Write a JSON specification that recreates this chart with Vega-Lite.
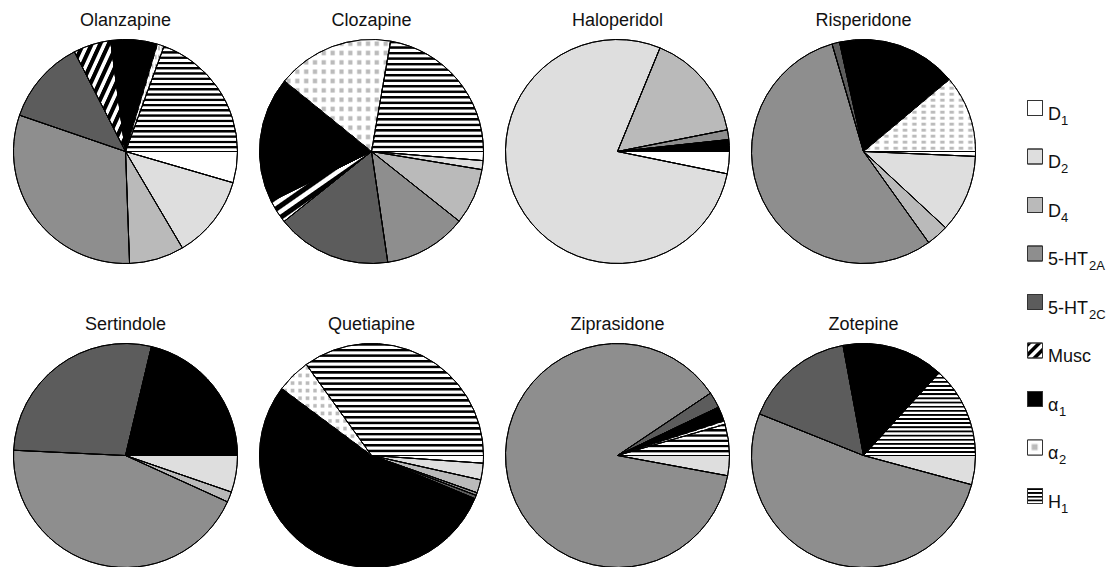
{
  "$schema": "https://vega.github.io/schema/vega-lite/v6.json",
  "padding": {"top": 11, "left": 11, "right": 0, "bottom": 0},
  "config": {"view": {"stroke": null}, "font": "Liberation Sans"},
  "datasets": {
    "pies": [
      {"drug": "Olanzapine", "receptor": "D1", "ord": 1, "value": 4.5},
      {"drug": "Olanzapine", "receptor": "D2", "ord": 2, "value": 12.0},
      {"drug": "Olanzapine", "receptor": "D4", "ord": 3, "value": 7.9},
      {"drug": "Olanzapine", "receptor": "5-HT2A", "ord": 4, "value": 30.8},
      {"drug": "Olanzapine", "receptor": "5-HT2C", "ord": 5, "value": 12.2},
      {"drug": "Olanzapine", "receptor": "Musc", "ord": 6, "value": 5.4},
      {"drug": "Olanzapine", "receptor": "α1", "ord": 7, "value": 6.7},
      {"drug": "Olanzapine", "receptor": "α2", "ord": 8, "value": 1.0},
      {"drug": "Olanzapine", "receptor": "H1", "ord": 9, "value": 19.4},
      {"drug": "Clozapine", "receptor": "D1", "ord": 1, "value": 1.3},
      {"drug": "Clozapine", "receptor": "D2", "ord": 2, "value": 1.3},
      {"drug": "Clozapine", "receptor": "D4", "ord": 3, "value": 8.1},
      {"drug": "Clozapine", "receptor": "5-HT2A", "ord": 4, "value": 12.0},
      {"drug": "Clozapine", "receptor": "5-HT2C", "ord": 5, "value": 16.6},
      {"drug": "Clozapine", "receptor": "Musc", "ord": 6, "value": 3.4},
      {"drug": "Clozapine", "receptor": "α1", "ord": 7, "value": 18.2},
      {"drug": "Clozapine", "receptor": "α2", "ord": 8, "value": 16.9},
      {"drug": "Clozapine", "receptor": "H1", "ord": 9, "value": 22.3},
      {"drug": "Haloperidol", "receptor": "D1", "ord": 1, "value": 3.2},
      {"drug": "Haloperidol", "receptor": "D2", "ord": 2, "value": 78.0},
      {"drug": "Haloperidol", "receptor": "D4", "ord": 3, "value": 15.7},
      {"drug": "Haloperidol", "receptor": "5-HT2A", "ord": 4, "value": 1.4},
      {"drug": "Haloperidol", "receptor": "α1", "ord": 7, "value": 1.7},
      {"drug": "Risperidone", "receptor": "D1", "ord": 1, "value": 0.7},
      {"drug": "Risperidone", "receptor": "D2", "ord": 2, "value": 11.2},
      {"drug": "Risperidone", "receptor": "D4", "ord": 3, "value": 3.2},
      {"drug": "Risperidone", "receptor": "5-HT2A", "ord": 4, "value": 55.3},
      {"drug": "Risperidone", "receptor": "5-HT2C", "ord": 5, "value": 1.1},
      {"drug": "Risperidone", "receptor": "α1", "ord": 7, "value": 17.3},
      {"drug": "Risperidone", "receptor": "α2", "ord": 8, "value": 11.1},
      {"drug": "Sertindole", "receptor": "D2", "ord": 2, "value": 5.3},
      {"drug": "Sertindole", "receptor": "D4", "ord": 3, "value": 1.5},
      {"drug": "Sertindole", "receptor": "5-HT2A", "ord": 4, "value": 44.0},
      {"drug": "Sertindole", "receptor": "5-HT2C", "ord": 5, "value": 28.0},
      {"drug": "Sertindole", "receptor": "α1", "ord": 7, "value": 21.3},
      {"drug": "Quetiapine", "receptor": "D1", "ord": 1, "value": 1.1},
      {"drug": "Quetiapine", "receptor": "D2", "ord": 2, "value": 2.4},
      {"drug": "Quetiapine", "receptor": "D4", "ord": 3, "value": 1.9},
      {"drug": "Quetiapine", "receptor": "5-HT2A", "ord": 4, "value": 0.4},
      {"drug": "Quetiapine", "receptor": "5-HT2C", "ord": 5, "value": 0.5},
      {"drug": "Quetiapine", "receptor": "α1", "ord": 7, "value": 53.9},
      {"drug": "Quetiapine", "receptor": "α2", "ord": 8, "value": 4.9},
      {"drug": "Quetiapine", "receptor": "H1", "ord": 9, "value": 34.9},
      {"drug": "Ziprasidone", "receptor": "D2", "ord": 2, "value": 2.9},
      {"drug": "Ziprasidone", "receptor": "5-HT2A", "ord": 4, "value": 87.7},
      {"drug": "Ziprasidone", "receptor": "5-HT2C", "ord": 5, "value": 2.3},
      {"drug": "Ziprasidone", "receptor": "α1", "ord": 7, "value": 2.1},
      {"drug": "Ziprasidone", "receptor": "α2", "ord": 8, "value": 0.5},
      {"drug": "Ziprasidone", "receptor": "H1", "ord": 9, "value": 4.5},
      {"drug": "Zotepine", "receptor": "D2", "ord": 2, "value": 4.2},
      {"drug": "Zotepine", "receptor": "5-HT2A", "ord": 4, "value": 51.8},
      {"drug": "Zotepine", "receptor": "5-HT2C", "ord": 5, "value": 16.0},
      {"drug": "Zotepine", "receptor": "α1", "ord": 7, "value": 14.7},
      {"drug": "Zotepine", "receptor": "H1", "ord": 9, "value": 13.2}
    ],
    "legend": [
      {"receptor": "D1", "base": "D", "sub": "1"},
      {"receptor": "D2", "base": "D", "sub": "2"},
      {"receptor": "D4", "base": "D", "sub": "4"},
      {"receptor": "5-HT2A", "base": "5-HT", "sub": "2A"},
      {"receptor": "5-HT2C", "base": "5-HT", "sub": "2C"},
      {"receptor": "Musc", "base": "Musc", "sub": ""},
      {"receptor": "α1", "base": "α", "sub": "1"},
      {"receptor": "α2", "base": "α", "sub": "2"},
      {"receptor": "H1", "base": "H", "sub": "1"}
    ]
  },
  "hconcat": [
    {
      "data": {"name": "pies"},
      "facet": {
        "field": "drug", "type": "nominal",
        "sort": ["Olanzapine", "Clozapine", "Haloperidol", "Risperidone", "Sertindole", "Quetiapine", "Ziprasidone", "Zotepine"],
        "header": {"title": null, "labelFontSize": 18, "labelFont": "Liberation Sans", "labelColor": "#111", "labelPadding": 8}
      },
      "columns": 4,
      "spacing": {"row": 49, "column": 17},
      "spec": {
        "width": 225,
        "height": 225,
        "layer": [
          {
            "mark": {"type": "arc", "radius": 112, "stroke": "#000", "strokeWidth": 1},
            "encoding": {
              "theta": {"field": "value", "type": "quantitative", "stack": "normalize", "scale": {"range": [1.5707963, 7.8539816]}},
              "detail": {"field": "receptor"},
              "order": {"field": "ord", "type": "quantitative"},
              "color": {
                "condition": [
                  {"test": "datum.receptor === 'D1'", "value": "#ffffff"},
                  {"test": "datum.receptor === 'D2'", "value": "#dedede"},
                  {"test": "datum.receptor === 'D4'", "value": "#bababa"},
                  {"test": "datum.receptor === '5-HT2A'", "value": "#8e8e8e"},
                  {"test": "datum.receptor === '5-HT2C'", "value": "#5c5c5c"},
                  {"test": "datum.receptor === 'Musc'", "value": {"gradient": "linear", "x1": 0, "y1": 0, "x2": 1, "y2": 1, "stops": [
                    {"offset": 0, "color": "#000"}, {"offset": 0.035, "color": "#000"}, {"offset": 0.045, "color": "#fff"}, {"offset": 0.075, "color": "#fff"},
                    {"offset": 0.083, "color": "#000"}, {"offset": 0.118, "color": "#000"}, {"offset": 0.128, "color": "#fff"}, {"offset": 0.158, "color": "#fff"},
                    {"offset": 0.167, "color": "#000"}, {"offset": 0.202, "color": "#000"}, {"offset": 0.212, "color": "#fff"}, {"offset": 0.242, "color": "#fff"},
                    {"offset": 0.25, "color": "#000"}, {"offset": 0.285, "color": "#000"}, {"offset": 0.295, "color": "#fff"}, {"offset": 0.325, "color": "#fff"},
                    {"offset": 0.333, "color": "#000"}, {"offset": 0.368, "color": "#000"}, {"offset": 0.378, "color": "#fff"}, {"offset": 0.408, "color": "#fff"},
                    {"offset": 0.417, "color": "#000"}, {"offset": 0.452, "color": "#000"}, {"offset": 0.462, "color": "#fff"}, {"offset": 0.492, "color": "#fff"},
                    {"offset": 0.5, "color": "#000"}, {"offset": 0.535, "color": "#000"}, {"offset": 0.545, "color": "#fff"}, {"offset": 0.575, "color": "#fff"},
                    {"offset": 0.583, "color": "#000"}, {"offset": 0.618, "color": "#000"}, {"offset": 0.628, "color": "#fff"}, {"offset": 0.658, "color": "#fff"},
                    {"offset": 0.667, "color": "#000"}, {"offset": 0.702, "color": "#000"}, {"offset": 0.712, "color": "#fff"}, {"offset": 0.742, "color": "#fff"},
                    {"offset": 0.75, "color": "#000"}, {"offset": 0.785, "color": "#000"}, {"offset": 0.795, "color": "#fff"}, {"offset": 0.825, "color": "#fff"},
                    {"offset": 0.833, "color": "#000"}, {"offset": 0.868, "color": "#000"}, {"offset": 0.878, "color": "#fff"}, {"offset": 0.908, "color": "#fff"},
                    {"offset": 0.917, "color": "#000"}, {"offset": 0.952, "color": "#000"}, {"offset": 0.962, "color": "#fff"}, {"offset": 0.992, "color": "#fff"},
                    {"offset": 1, "color": "#000"}]}},
                  {"test": "datum.receptor === 'α1'", "value": "#000000"},
                  {"test": "datum.receptor === 'α2'", "value": {"gradient": "linear", "x1": 0, "y1": 0, "x2": 1, "y2": 0, "stops": [
                    {"offset": 0.01, "color": "#fff"}, {"offset": 0.025, "color": "#bbb"}, {"offset": 0.05, "color": "#bbb"}, {"offset": 0.065, "color": "#fff"},
                    {"offset": 0.093, "color": "#fff"}, {"offset": 0.108, "color": "#bbb"}, {"offset": 0.133, "color": "#bbb"}, {"offset": 0.148, "color": "#fff"},
                    {"offset": 0.177, "color": "#fff"}, {"offset": 0.192, "color": "#bbb"}, {"offset": 0.217, "color": "#bbb"}, {"offset": 0.232, "color": "#fff"},
                    {"offset": 0.26, "color": "#fff"}, {"offset": 0.275, "color": "#bbb"}, {"offset": 0.3, "color": "#bbb"}, {"offset": 0.315, "color": "#fff"},
                    {"offset": 0.343, "color": "#fff"}, {"offset": 0.358, "color": "#bbb"}, {"offset": 0.383, "color": "#bbb"}, {"offset": 0.398, "color": "#fff"},
                    {"offset": 0.427, "color": "#fff"}, {"offset": 0.442, "color": "#bbb"}, {"offset": 0.467, "color": "#bbb"}, {"offset": 0.482, "color": "#fff"},
                    {"offset": 0.51, "color": "#fff"}, {"offset": 0.525, "color": "#bbb"}, {"offset": 0.55, "color": "#bbb"}, {"offset": 0.565, "color": "#fff"},
                    {"offset": 0.593, "color": "#fff"}, {"offset": 0.608, "color": "#bbb"}, {"offset": 0.633, "color": "#bbb"}, {"offset": 0.648, "color": "#fff"},
                    {"offset": 0.677, "color": "#fff"}, {"offset": 0.692, "color": "#bbb"}, {"offset": 0.717, "color": "#bbb"}, {"offset": 0.732, "color": "#fff"},
                    {"offset": 0.76, "color": "#fff"}, {"offset": 0.775, "color": "#bbb"}, {"offset": 0.8, "color": "#bbb"}, {"offset": 0.815, "color": "#fff"},
                    {"offset": 0.843, "color": "#fff"}, {"offset": 0.858, "color": "#bbb"}, {"offset": 0.883, "color": "#bbb"}, {"offset": 0.898, "color": "#fff"},
                    {"offset": 0.927, "color": "#fff"}, {"offset": 0.942, "color": "#bbb"}, {"offset": 0.967, "color": "#bbb"}, {"offset": 0.982, "color": "#fff"}]}},
                  {"test": "datum.receptor === 'H1' && datum.drug === 'Ziprasidone'", "value": {"gradient": "linear", "x1": 0, "y1": 0, "x2": 0, "y2": 1, "stops": [
                    {"offset": 0, "color": "#000"}, {"offset": 0.05, "color": "#000"}, {"offset": 0.083, "color": "#fff"}, {"offset": 0.15, "color": "#fff"},
                    {"offset": 0.167, "color": "#000"}, {"offset": 0.217, "color": "#000"}, {"offset": 0.25, "color": "#fff"}, {"offset": 0.317, "color": "#fff"},
                    {"offset": 0.333, "color": "#000"}, {"offset": 0.383, "color": "#000"}, {"offset": 0.417, "color": "#fff"}, {"offset": 0.483, "color": "#fff"},
                    {"offset": 0.5, "color": "#000"}, {"offset": 0.55, "color": "#000"}, {"offset": 0.583, "color": "#fff"}, {"offset": 0.65, "color": "#fff"},
                    {"offset": 0.667, "color": "#000"}, {"offset": 0.717, "color": "#000"}, {"offset": 0.75, "color": "#fff"}, {"offset": 0.817, "color": "#fff"},
                    {"offset": 0.833, "color": "#000"}, {"offset": 0.883, "color": "#000"}, {"offset": 0.917, "color": "#fff"}, {"offset": 0.983, "color": "#fff"},
                    {"offset": 1, "color": "#000"}]}},
                  {"test": "datum.receptor === 'H1'", "value": {"gradient": "linear", "x1": 0, "y1": 0, "x2": 0, "y2": 1, "stops": [
                    {"offset": 0, "color": "#000"}, {"offset": 0.015, "color": "#000"}, {"offset": 0.025, "color": "#fff"}, {"offset": 0.045, "color": "#fff"},
                    {"offset": 0.05, "color": "#000"}, {"offset": 0.065, "color": "#000"}, {"offset": 0.075, "color": "#fff"}, {"offset": 0.095, "color": "#fff"},
                    {"offset": 0.1, "color": "#000"}, {"offset": 0.115, "color": "#000"}, {"offset": 0.125, "color": "#fff"}, {"offset": 0.145, "color": "#fff"},
                    {"offset": 0.15, "color": "#000"}, {"offset": 0.165, "color": "#000"}, {"offset": 0.175, "color": "#fff"}, {"offset": 0.195, "color": "#fff"},
                    {"offset": 0.2, "color": "#000"}, {"offset": 0.215, "color": "#000"}, {"offset": 0.225, "color": "#fff"}, {"offset": 0.245, "color": "#fff"},
                    {"offset": 0.25, "color": "#000"}, {"offset": 0.265, "color": "#000"}, {"offset": 0.275, "color": "#fff"}, {"offset": 0.295, "color": "#fff"},
                    {"offset": 0.3, "color": "#000"}, {"offset": 0.315, "color": "#000"}, {"offset": 0.325, "color": "#fff"}, {"offset": 0.345, "color": "#fff"},
                    {"offset": 0.35, "color": "#000"}, {"offset": 0.365, "color": "#000"}, {"offset": 0.375, "color": "#fff"}, {"offset": 0.395, "color": "#fff"},
                    {"offset": 0.4, "color": "#000"}, {"offset": 0.415, "color": "#000"}, {"offset": 0.425, "color": "#fff"}, {"offset": 0.445, "color": "#fff"},
                    {"offset": 0.45, "color": "#000"}, {"offset": 0.465, "color": "#000"}, {"offset": 0.475, "color": "#fff"}, {"offset": 0.495, "color": "#fff"},
                    {"offset": 0.5, "color": "#000"}, {"offset": 0.515, "color": "#000"}, {"offset": 0.525, "color": "#fff"}, {"offset": 0.545, "color": "#fff"},
                    {"offset": 0.55, "color": "#000"}, {"offset": 0.565, "color": "#000"}, {"offset": 0.575, "color": "#fff"}, {"offset": 0.595, "color": "#fff"},
                    {"offset": 0.6, "color": "#000"}, {"offset": 0.615, "color": "#000"}, {"offset": 0.625, "color": "#fff"}, {"offset": 0.645, "color": "#fff"},
                    {"offset": 0.65, "color": "#000"}, {"offset": 0.665, "color": "#000"}, {"offset": 0.675, "color": "#fff"}, {"offset": 0.695, "color": "#fff"},
                    {"offset": 0.7, "color": "#000"}, {"offset": 0.715, "color": "#000"}, {"offset": 0.725, "color": "#fff"}, {"offset": 0.745, "color": "#fff"},
                    {"offset": 0.75, "color": "#000"}, {"offset": 0.765, "color": "#000"}, {"offset": 0.775, "color": "#fff"}, {"offset": 0.795, "color": "#fff"},
                    {"offset": 0.8, "color": "#000"}, {"offset": 0.815, "color": "#000"}, {"offset": 0.825, "color": "#fff"}, {"offset": 0.845, "color": "#fff"},
                    {"offset": 0.85, "color": "#000"}, {"offset": 0.865, "color": "#000"}, {"offset": 0.875, "color": "#fff"}, {"offset": 0.895, "color": "#fff"},
                    {"offset": 0.9, "color": "#000"}, {"offset": 0.915, "color": "#000"}, {"offset": 0.925, "color": "#fff"}, {"offset": 0.945, "color": "#fff"},
                    {"offset": 0.95, "color": "#000"}, {"offset": 0.965, "color": "#000"}, {"offset": 0.975, "color": "#fff"}, {"offset": 0.995, "color": "#fff"},
                    {"offset": 1, "color": "#000"}]}}
                ],
                "value": "#ffffff"
              }
            }
          },
          {
            "mark": {"type": "arc", "radius": 112, "stroke": "#000", "strokeWidth": 1},
            "encoding": {
              "theta": {"field": "value", "type": "quantitative", "stack": "normalize", "scale": {"range": [1.5707963, 7.8539816]}},
              "detail": {"field": "receptor"},
              "order": {"field": "ord", "type": "quantitative"},
              "color": {
                "condition": {"test": "datum.receptor === 'α2'", "value": {"gradient": "linear", "x1": 0, "y1": 0, "x2": 0, "y2": 1, "stops": [
                  {"offset": 0.01, "color": "#fff"}, {"offset": 0.025, "color": "rgba(255,255,255,0)"}, {"offset": 0.05, "color": "rgba(255,255,255,0)"}, {"offset": 0.065, "color": "#fff"},
                  {"offset": 0.093, "color": "#fff"}, {"offset": 0.108, "color": "rgba(255,255,255,0)"}, {"offset": 0.133, "color": "rgba(255,255,255,0)"}, {"offset": 0.148, "color": "#fff"},
                  {"offset": 0.177, "color": "#fff"}, {"offset": 0.192, "color": "rgba(255,255,255,0)"}, {"offset": 0.217, "color": "rgba(255,255,255,0)"}, {"offset": 0.232, "color": "#fff"},
                  {"offset": 0.26, "color": "#fff"}, {"offset": 0.275, "color": "rgba(255,255,255,0)"}, {"offset": 0.3, "color": "rgba(255,255,255,0)"}, {"offset": 0.315, "color": "#fff"},
                  {"offset": 0.343, "color": "#fff"}, {"offset": 0.358, "color": "rgba(255,255,255,0)"}, {"offset": 0.383, "color": "rgba(255,255,255,0)"}, {"offset": 0.398, "color": "#fff"},
                  {"offset": 0.427, "color": "#fff"}, {"offset": 0.442, "color": "rgba(255,255,255,0)"}, {"offset": 0.467, "color": "rgba(255,255,255,0)"}, {"offset": 0.482, "color": "#fff"},
                  {"offset": 0.51, "color": "#fff"}, {"offset": 0.525, "color": "rgba(255,255,255,0)"}, {"offset": 0.55, "color": "rgba(255,255,255,0)"}, {"offset": 0.565, "color": "#fff"},
                  {"offset": 0.593, "color": "#fff"}, {"offset": 0.608, "color": "rgba(255,255,255,0)"}, {"offset": 0.633, "color": "rgba(255,255,255,0)"}, {"offset": 0.648, "color": "#fff"},
                  {"offset": 0.677, "color": "#fff"}, {"offset": 0.692, "color": "rgba(255,255,255,0)"}, {"offset": 0.717, "color": "rgba(255,255,255,0)"}, {"offset": 0.732, "color": "#fff"},
                  {"offset": 0.76, "color": "#fff"}, {"offset": 0.775, "color": "rgba(255,255,255,0)"}, {"offset": 0.8, "color": "rgba(255,255,255,0)"}, {"offset": 0.815, "color": "#fff"},
                  {"offset": 0.843, "color": "#fff"}, {"offset": 0.858, "color": "rgba(255,255,255,0)"}, {"offset": 0.883, "color": "rgba(255,255,255,0)"}, {"offset": 0.898, "color": "#fff"},
                  {"offset": 0.927, "color": "#fff"}, {"offset": 0.942, "color": "rgba(255,255,255,0)"}, {"offset": 0.967, "color": "rgba(255,255,255,0)"}, {"offset": 0.982, "color": "#fff"}]}},
                "value": "transparent"
              }
            }
          }
        ]
      }
    },
    {
      "data": {"name": "legend"},
      "width": 16,
      "height": 500,
      "layer": [
        {
          "mark": {"type": "point", "shape": "square", "filled": true, "size": 225, "opacity": 1, "stroke": "#333", "strokeWidth": 1},
          "encoding": {
            "y": {"field": "receptor", "type": "ordinal", "axis": null, "scale": {"type": "point", "domain": ["D1", "D2", "D4", "5-HT2A", "5-HT2C", "Musc", "α1", "α2", "H1"], "range": [69, 457], "padding": 0}},
            "color": {
              "condition": [
                {"test": "datum.receptor === 'D1'", "value": "#ffffff"},
                {"test": "datum.receptor === 'D2'", "value": "#dedede"},
                {"test": "datum.receptor === 'D4'", "value": "#bababa"},
                {"test": "datum.receptor === '5-HT2A'", "value": "#8e8e8e"},
                {"test": "datum.receptor === '5-HT2C'", "value": "#5c5c5c"},
                {"test": "datum.receptor === 'Musc'", "value": {"gradient": "linear", "x1": 0, "y1": 0, "x2": 1, "y2": 1, "stops": [
                  {"offset": 0, "color": "#000"}, {"offset": 0.12, "color": "#000"}, {"offset": 0.17, "color": "#fff"}, {"offset": 0.29, "color": "#fff"},
                  {"offset": 0.333, "color": "#000"}, {"offset": 0.453, "color": "#000"}, {"offset": 0.503, "color": "#fff"}, {"offset": 0.623, "color": "#fff"},
                  {"offset": 0.667, "color": "#000"}, {"offset": 0.787, "color": "#000"}, {"offset": 0.837, "color": "#fff"}, {"offset": 0.957, "color": "#fff"},
                  {"offset": 1, "color": "#000"}]}},
                {"test": "datum.receptor === 'α1'", "value": "#000000"},
                {"test": "datum.receptor === 'α2'", "value": {"gradient": "linear", "x1": 0, "y1": 0, "x2": 1, "y2": 0, "stops": [
                  {"offset": 0, "color": "#fff"}, {"offset": 0.2, "color": "#fff"}, {"offset": 0.35, "color": "#bbb"}, {"offset": 0.6, "color": "#bbb"}, {"offset": 0.75, "color": "#fff"}, {"offset": 1, "color": "#fff"}]}},
                {"test": "datum.receptor === 'H1'", "value": {"gradient": "linear", "x1": 0, "y1": 0, "x2": 0, "y2": 1, "stops": [
                  {"offset": 0, "color": "#000"}, {"offset": 0.08, "color": "#000"}, {"offset": 0.13, "color": "#fff"}, {"offset": 0.22, "color": "#fff"},
                  {"offset": 0.25, "color": "#000"}, {"offset": 0.33, "color": "#000"}, {"offset": 0.38, "color": "#fff"}, {"offset": 0.47, "color": "#fff"},
                  {"offset": 0.5, "color": "#000"}, {"offset": 0.58, "color": "#000"}, {"offset": 0.63, "color": "#fff"}, {"offset": 0.72, "color": "#fff"},
                  {"offset": 0.75, "color": "#000"}, {"offset": 0.83, "color": "#000"}, {"offset": 0.88, "color": "#fff"}, {"offset": 0.97, "color": "#fff"},
                  {"offset": 1, "color": "#000"}]}}
              ],
              "value": "#ffffff"
            }
          }
        },
        {
          "mark": {"type": "point", "shape": "square", "filled": true, "size": 225, "opacity": 1, "stroke": "#333", "strokeWidth": 1},
          "encoding": {
            "y": {"field": "receptor", "type": "ordinal", "axis": null, "scale": {"type": "point", "domain": ["D1", "D2", "D4", "5-HT2A", "5-HT2C", "Musc", "α1", "α2", "H1"], "range": [69, 457], "padding": 0}},
            "color": {
              "condition": {"test": "datum.receptor === 'α2'", "value": {"gradient": "linear", "x1": 0, "y1": 0, "x2": 0, "y2": 1, "stops": [
                {"offset": 0, "color": "#fff"}, {"offset": 0.2, "color": "#fff"}, {"offset": 0.35, "color": "rgba(255,255,255,0)"}, {"offset": 0.6, "color": "rgba(255,255,255,0)"}, {"offset": 0.75, "color": "#fff"}, {"offset": 1, "color": "#fff"}]}},
              "value": "transparent"
            }
          }
        },
        {
          "mark": {"type": "text", "align": "left", "baseline": "alphabetic", "dx": 13, "dy": 11.5, "fontSize": 18, "font": "Liberation Sans", "color": "#111"},
          "encoding": {
            "y": {"field": "receptor", "type": "ordinal", "axis": null, "scale": {"type": "point", "domain": ["D1", "D2", "D4", "5-HT2A", "5-HT2C", "Musc", "α1", "α2", "H1"], "range": [69, 457], "padding": 0}},
            "text": {"field": "base"}
          }
        },
        {
          "transform": [{"filter": "datum.base === 'D' || datum.base === 'H'"}],
          "mark": {"type": "text", "align": "left", "baseline": "alphabetic", "dx": 26, "dy": 16.8, "fontSize": 13, "font": "Liberation Sans", "color": "#111"},
          "encoding": {
            "y": {"field": "receptor", "type": "ordinal", "axis": null, "scale": {"type": "point", "domain": ["D1", "D2", "D4", "5-HT2A", "5-HT2C", "Musc", "α1", "α2", "H1"], "range": [69, 457], "padding": 0}},
            "text": {"field": "sub"}
          }
        },
        {
          "transform": [{"filter": "datum.base === '5-HT'"}],
          "mark": {"type": "text", "align": "left", "baseline": "alphabetic", "dx": 54, "dy": 16.8, "fontSize": 13, "font": "Liberation Sans", "color": "#111"},
          "encoding": {
            "y": {"field": "receptor", "type": "ordinal", "axis": null, "scale": {"type": "point", "domain": ["D1", "D2", "D4", "5-HT2A", "5-HT2C", "Musc", "α1", "α2", "H1"], "range": [69, 457], "padding": 0}},
            "text": {"field": "sub"}
          }
        },
        {
          "transform": [{"filter": "datum.base === 'α'"}],
          "mark": {"type": "text", "align": "left", "baseline": "alphabetic", "dx": 24, "dy": 16.8, "fontSize": 13, "font": "Liberation Sans", "color": "#111"},
          "encoding": {
            "y": {"field": "receptor", "type": "ordinal", "axis": null, "scale": {"type": "point", "domain": ["D1", "D2", "D4", "5-HT2A", "5-HT2C", "Musc", "α1", "α2", "H1"], "range": [69, 457], "padding": 0}},
            "text": {"field": "sub"}
          }
        }
      ]
    }
  ],
  "spacing": 47
}
